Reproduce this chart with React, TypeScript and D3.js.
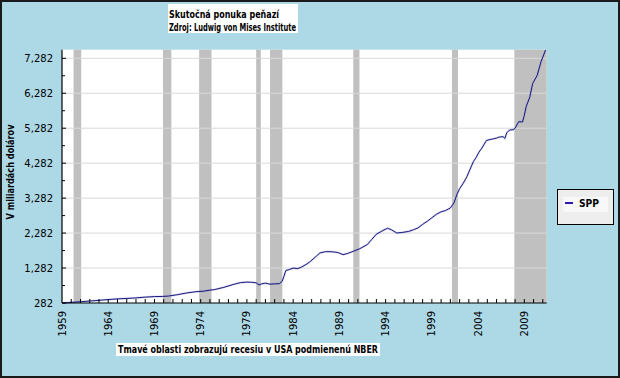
import React from "react";
import * as d3 from "d3";

const seriesYears: number[] = [
  1959.0, 1960.0, 1961.0, 1962.0, 1963.0, 1964.0, 1965.0, 1966.0, 1967.0, 1968.0, 1969.0, 1969.9,
  1970.5, 1971.5, 1972.5, 1973.5, 1974.3, 1975.0, 1975.5, 1976.5, 1977.5, 1978.3, 1979.0, 1979.5,
  1980.0, 1980.3, 1980.6, 1981.0, 1981.5, 1982.0, 1982.5, 1982.8, 1983.0, 1983.2, 1983.6, 1984.0,
  1984.5, 1984.9, 1985.5, 1985.9, 1986.5, 1986.9, 1987.5, 1988.0, 1988.5, 1988.9, 1989.4, 1989.9,
  1990.5, 1991.2, 1992.0, 1992.5, 1993.0, 1993.6, 1994.2, 1994.6, 1995.2, 1995.8, 1996.5, 1997.0,
  1997.5, 1998.0, 1998.5, 1999.0, 1999.5, 2000.0, 2000.5, 2001.0, 2001.4, 2001.7, 2002.0, 2002.4,
  2002.8, 2003.1, 2003.5, 2003.8, 2004.1, 2004.4, 2004.9, 2005.3, 2005.7, 2006.0, 2006.3, 2006.7,
  2006.9, 2007.1, 2007.4, 2007.8, 2008.0, 2008.4, 2008.8, 2009.0, 2009.2, 2009.6, 2009.9, 2010.4,
  2010.8, 2011.3,
];
const sppValues: number[] = [
  282, 300, 318, 338, 358, 380, 400, 412, 428, 450, 466, 470,
  480, 520, 570, 605, 620, 650, 665, 730, 810, 865, 880, 875,
  860, 800, 830, 850, 820, 830, 835, 900, 1040, 1210, 1240, 1280,
  1265, 1310, 1400, 1480, 1620, 1715, 1750, 1750, 1740, 1720, 1665, 1700,
  1760, 1835, 1950, 2100, 2250, 2340, 2420, 2380, 2285, 2300, 2330, 2375,
  2430, 2530, 2620, 2720, 2820, 2890, 2930, 3000, 3150, 3380, 3550, 3710,
  3900, 4090, 4330, 4450, 4600, 4710, 4930, 4960, 4980, 5000, 5030, 5040,
  4990, 5150, 5230, 5240, 5280, 5470, 5460, 5650, 5900, 6180, 6560, 6800,
  7180, 7520,
];
const recessionStarts: number[] = [1960.25, 1969.92, 1973.83, 1980.0, 1981.5, 1990.5, 2001.17, 2007.92];
const recessionEnds: number[] = [1961.08, 1970.83, 1975.17, 1980.5, 1982.83, 1991.17, 2001.83, 2011.42];
const yMajorTicks: number[] = [282, 1282, 2282, 3282, 4282, 5282, 6282, 7282];
const yMinorTicks: number[] = [782, 1782, 2782, 3782, 4782, 5782, 6782];
const xLabelYears: number[] = [1959, 1964, 1969, 1974, 1979, 1984, 1989, 1994, 1999, 2004, 2009];
const xMinorYears: number[] = d3.range(1960, 2012);

const W = 620;
const H = 378;
const L = 62;
const R = 546.7;
const T = 49.7;
const B = 303;

export default function App() {
  const x = d3.scaleLinear().domain([1959, 2011.42]).range([L, R]);
  const y = d3.scaleLinear().domain([282, 7528]).range([B, T]);
  const pts: [number, number][] = seriesYears.map((yr, i) => [yr, sppValues[i]]);
  const line = d3
    .line<[number, number]>()
    .x((d) => x(d[0]))
    .y((d) => Math.max(T, y(d[1])));
  const fmt = d3.format(",");
  const tickFont = "'DejaVu Sans', Verdana, sans-serif";
  const boldFont = "'DejaVu Sans', Verdana, sans-serif";

  return (
    <svg width={W} height={H} style={{ position: "absolute", left: 0, top: 0 }} xmlns="http://www.w3.org/2000/svg">
      <rect x={0} y={0} width={W} height={H} fill="#add8e6" />
      <rect x={1} y={1} width={W - 2} height={H - 2} fill="none" stroke="#1a1a1a" strokeWidth={2} />

      {/* title box */}
      <rect x={168} y={4} width={130} height={29} fill="#ffffff" />
      <text x={169} y={17.5} fontFamily={boldFont} fontWeight="bold" fontSize={10} textLength={110} lengthAdjust="spacingAndGlyphs" fill="#000">
        Skutočná ponuka peňazí
      </text>
      <text x={169} y={30.5} fontFamily={boldFont} fontWeight="bold" fontSize={10} textLength={127} lengthAdjust="spacingAndGlyphs" fill="#000">
        Zdroj: Ludwig von Mises Institute
      </text>

      {/* plot background */}
      <rect x={L} y={T} width={R - L} height={B - T} fill="#ffffff" />

      {/* recession bands */}
      {recessionStarts.map((s, i) => (
        <rect key={"r" + i} x={x(s)} y={T} width={x(recessionEnds[i]) - x(s)} height={B - T} fill="#c0c0c0" />
      ))}

      {/* gridlines */}
      {yMajorTicks.slice(1).map((v) => (
        <line key={"g" + v} x1={L} x2={R} y1={y(v)} y2={y(v)} stroke="#d9d9d9" strokeWidth={1} />
      ))}

      {/* series */}
      <path d={line(pts) || ""} fill="none" stroke="#8080e0" strokeWidth={2.2} strokeOpacity={0.3} />
      <path d={line(pts) || ""} fill="none" stroke="#1a1a7a" strokeWidth={1} />

      {/* axes */}
      <line x1={L} x2={L} y1={T} y2={B} stroke="#000" strokeWidth={1.2} />
      <line x1={L} x2={R} y1={B} y2={B} stroke="#000" strokeWidth={1.2} />
      {yMajorTicks.map((v) => (
        <line key={"yt" + v} x1={L} x2={L + 4} y1={y(v)} y2={y(v)} stroke="#000" strokeWidth={1} />
      ))}
      {yMinorTicks.map((v) => (
        <line key={"ym" + v} x1={L} x2={L + 3} y1={y(v)} y2={y(v)} stroke="#000" strokeWidth={1} />
      ))}
      {xMinorYears.map((yr) => (
        <line key={"xt" + yr} x1={x(yr)} x2={x(yr)} y1={B} y2={B - 4} stroke="#000" strokeWidth={1} />
      ))}
      {yMajorTicks.map((v) => (
        <text key={"yl" + v} x={53} y={y(v) + 3.5} textAnchor="end" fontFamily={tickFont} fontSize={10} fill="#000">
          {fmt(v)}
        </text>
      ))}
      {xLabelYears.map((yr) => (
        <text
          key={"xl" + yr}
          transform={`translate(${x(yr) + 3.5},${311}) rotate(-90)`}
          textAnchor="end"
          fontFamily={tickFont}
          fontSize={10}
          fill="#000"
        >
          {yr}
        </text>
      ))}

      {/* y title */}
      <text transform={`translate(14,172) rotate(-90)`} textAnchor="middle" fontFamily={boldFont} fontWeight="bold" fontSize={10} textLength={95} lengthAdjust="spacingAndGlyphs" fill="#000">
        V miliardách dolárov
      </text>

      {/* bottom note */}
      <rect x={116} y={343} width={264} height={13} fill="#ffffff" />
      <text x={118} y={353} fontFamily={boldFont} fontWeight="bold" fontSize={10.5} textLength={260} lengthAdjust="spacingAndGlyphs" fill="#000">
        Tmavé oblasti zobrazujú recesiu v USA podmienenú NBER
      </text>

      {/* legend */}
      <rect x={557.5} y={189.5} width={56} height={35} fill="#eeeeee" stroke="#000" strokeWidth={1} />
      <rect x={563} y={197} width={45} height={15} fill="#f8f8f8" />
      <line x1={565} x2={573} y1={203} y2={203} stroke="#2a1ab0" strokeWidth={2} />
      <text x={579} y={207} fontFamily={boldFont} fontWeight="bold" fontSize={10} textLength={20} lengthAdjust="spacingAndGlyphs" fill="#000">
        SPP
      </text>
    </svg>
  );
}
